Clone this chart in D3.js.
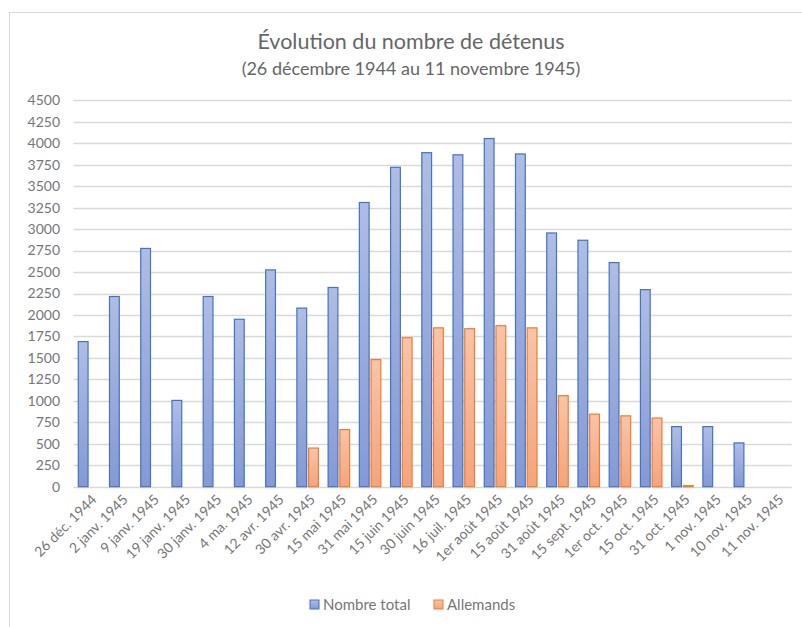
<!DOCTYPE html>
<html>
<head>
<meta charset="utf-8">
<script src="https://cdn.jsdelivr.net/npm/d3@7"></script>
<style>
  body { margin: 0; background: #fff; }
  svg text { font-family: Lato, "Open Sans", sans-serif; }
</style>
</head>
<body>
<div id="chart"></div>
<script>
// categories (dates) and series
var dates = ["26 déc. 1944", "2 janv. 1945", "9 janv. 1945", "19 janv. 1945", "30 janv. 1945",
    "4 ma. 1945", "12 avr. 1945", "30 avr. 1945", "15 mai 1945", "31 mai 1945", "15 juin 1945",
    "30 juin 1945", "16 juil. 1945", "1er août 1945", "15 août 1945", "31 août 1945",
    "15 sept. 1945", "1er oct. 1945", "15 oct. 1945", "31 oct. 1945", "1 nov. 1945",
    "10 nov. 1945", "11 nov. 1945"];
var total = [1690, 2215, 2775, 1005, 2215, 1950, 2525, 2080, 2320, 3310, 3720,
    3890, 3865, 4055, 3875, 2955, 2870, 2610, 2295, 700, 700, 510, null];
var allemands = [null, null, null, null, null, null, null, 450, 665, 1480, 1735,
    1850, 1840, 1875, 1850, 1060, 845, 825, 800, 12, null, null, null];
var seriesNames = ["Nombre total", "Allemands"];
var yTicks = d3.range(0, 4501, 250);

var width = 802, height = 627;
var plot = {left: 73.4, right: 791.7, top: 100.3, bottom: 486.7};

var svg = d3.select("#chart").append("svg")
    .attr("width", width)
    .attr("height", height);

// chart frame
svg.append("rect")
    .attr("x", 9.5).attr("y", 12.5)
    .attr("width", 820).attr("height", 640)
    .attr("fill", "#fff")
    .attr("stroke", "#d9d9d9");

var defs = svg.append("defs");
function grad(id, top, bottom) {
    var g = defs.append("linearGradient").attr("id", id)
        .attr("x1", 0).attr("y1", 0).attr("x2", 0).attr("y2", 1);
    g.append("stop").attr("offset", "0%").attr("stop-color", top);
    g.append("stop").attr("offset", "100%").attr("stop-color", bottom);
}
grad("gBlue", "#afbde4", "#8499d5");
grad("gOrange", "#f8c4a9", "#f4a47c");

var fills = ["url(#gBlue)", "url(#gOrange)"];
var strokes = ["#4472c4", "#ed7d31"];

// title
svg.append("text")
    .attr("x", 411).attr("y", 49)
    .attr("text-anchor", "middle")
    .attr("fill", "#666")
    .style("font-size", "21.5px")
    .text("Évolution du nombre de détenus");
svg.append("text")
    .attr("x", 411).attr("y", 75)
    .attr("text-anchor", "middle")
    .attr("fill", "#666")
    .style("font-size", "18px")
    .text("(26 décembre 1944 au 11 novembre 1945)");

var x = d3.scaleBand()
    .domain(dates)
    .range([plot.left, plot.right])
    .paddingInner(0.28)
    .paddingOuter(0.14);

var xSub = d3.scaleBand()
    .domain([0, 1])
    .range([0, x.bandwidth()])
    .paddingInner(0.08);

var y = d3.scaleLinear()
    .domain([0, 4500])
    .range([plot.bottom, plot.top]);

// gridlines
svg.append("g").selectAll("line")
    .data(yTicks)
    .enter().append("line")
    .attr("x1", plot.left).attr("x2", plot.right)
    .attr("y1", function(d) { return Math.round(y(d)) + 0.5; })
    .attr("y2", function(d) { return Math.round(y(d)) + 0.5; })
    .attr("stroke", "#d9d9d9")
    .attr("stroke-width", 1.3);

// y axis labels
svg.append("g").selectAll("text")
    .data(yTicks)
    .enter().append("text")
    .attr("x", 60)
    .attr("y", function(d) { return y(d); })
    .attr("dy", "0.35em")
    .attr("text-anchor", "end")
    .attr("fill", "#767676")
    .style("font-size", "14px")
    .text(function(d) { return d; });

// bars
var seriesData = [total, allemands];
seriesData.forEach(function(values, s) {
    var rows = dates.map(function(d, i) { return {date: d, v: values[i]}; })
        .filter(function(r) { return r.v !== null; });
    svg.append("g").selectAll("rect")
        .data(rows)
        .enter().append("rect")
        .attr("x", function(d) { return x(d.date) + xSub(s) + 0.5; })
        .attr("y", function(d) { return y(d.v); })
        .attr("width", xSub.bandwidth() - 1)
        .attr("height", function(d) { return y(0) - y(d.v); })
        .attr("fill", fills[s])
        .attr("stroke", strokes[s])
        .attr("stroke-width", 1.2);
});

// x axis labels
svg.append("g").selectAll("text")
    .data(dates)
    .enter().append("text")
    .attr("transform", function(d) {
        return "translate(" + (x(d) + x.bandwidth() / 2 + 5) + "," + 497 + ") rotate(-45)";
    })
    .attr("text-anchor", "end")
    .attr("dy", "0.35em")
    .attr("fill", "#767676")
    .style("font-size", "14px")
    .text(function(d) { return d; });

// legend
var legend = svg.append("g");
var legendX = [310, 434];
seriesNames.forEach(function(name, s) {
    legend.append("rect")
        .attr("x", legendX[s]).attr("y", 600)
        .attr("width", 9).attr("height", 9)
        .attr("fill", fills[s])
        .attr("stroke", strokes[s]);
    legend.append("text")
        .attr("x", legendX[s] + 13).attr("y", 605)
        .attr("dy", "0.35em")
        .attr("fill", "#767676")
        .style("font-size", "15px")
        .text(name);
});
</script>
</body>
</html>
